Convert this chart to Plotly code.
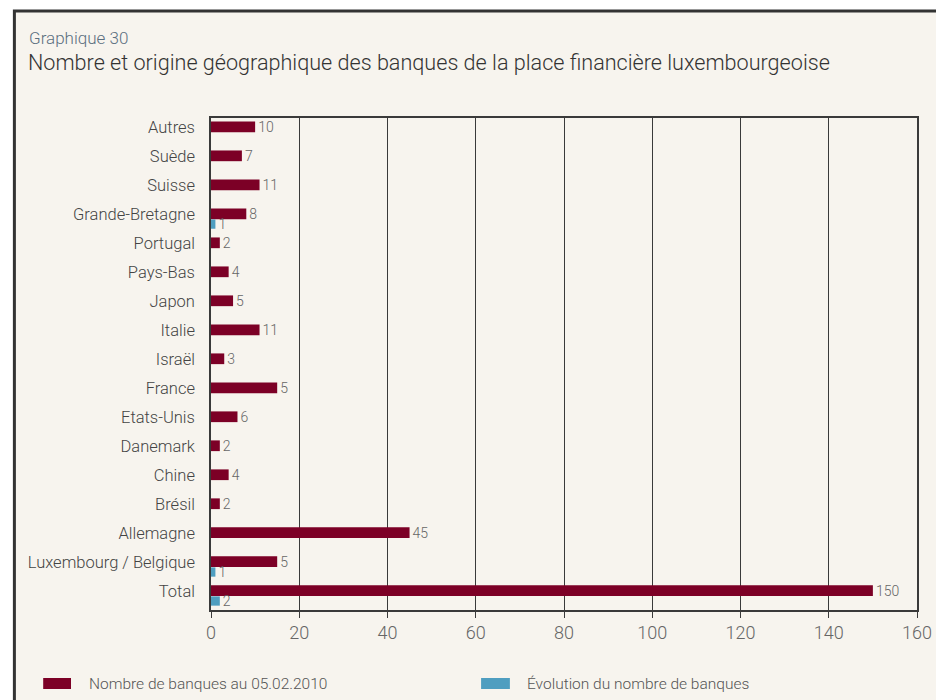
import plotly.graph_objects as go

# Data (bottom to top)
categories = ["Total", "Luxembourg / Belgique", "Allemagne", "Brésil", "Chine", "Danemark",
              "Etats-Unis", "France", "Israël", "Italie", "Japon", "Pays-Bas", "Portugal",
              "Grande-Bretagne", "Suisse", "Suède", "Autres"]
nombre = [150, 15, 45, 2, 4, 2, 6, 15, 3, 11, 5, 4, 2, 8, 11, 7, 10]
nombre_labels = ["150", "5", "45", "2", "4", "2", "6", "5", "3", "11", "5", "4", "2", "8", "11", "7", "10"]
evol_categories = ["Total", "Luxembourg / Belgique", "Grande-Bretagne"]
evolution = [2, 1, 1]
evol_labels = ["2", "1", "1"]
x_ticks = [0, 20, 40, 60, 80, 100, 120, 140, 160]

RED = "#7c0026"
BLUE = "#4f9ec0"
BG = "#f7f4ee"
FONT = "Roboto"

OFF = 8  # page body margin
W, H = 944 - OFF, 700 - OFF
L, R, T = 211 - OFF, 22, 118 - OFF
B = H - (610 - OFF)
pw = W - L - R
ph = H - T - B

def px_x(px):
    return (px - OFF - L) / pw

def px_y(py):
    return (H - B - (py - OFF)) / ph

fig = go.Figure()
fig.add_trace(go.Bar(
    y=categories, x=nombre, orientation="h", name="Nombre de banques au 05.02.2010",
    marker=dict(color=RED, line=dict(width=0)), width=0.37, offset=-0.18,
    text=nombre_labels, textposition="outside", cliponaxis=False, constraintext="none",
    textfont=dict(size=14, color="#666666", family=FONT, weight=300), showlegend=False,
))
fig.add_trace(go.Bar(
    y=evol_categories, x=evolution, orientation="h", name="Évolution du nombre de banques",
    marker=dict(color=BLUE, line=dict(width=0)), width=0.32, offset=-0.51,
    text=evol_labels, textposition="outside", cliponaxis=False, constraintext="none",
    textfont=dict(size=14, color="#666666", family=FONT, weight=300), showlegend=False,
))

shapes = [
    dict(type="rect", xref="paper", yref="paper", layer="below",
         x0=px_x(13), x1=px_x(970), y0=px_y(730), y1=px_y(11),
         fillcolor=BG, line=dict(color="#333333", width=3)),
    dict(type="rect", xref="paper", yref="paper",
         x0=px_x(42), x1=px_x(70), y0=px_y(689), y1=px_y(678),
         fillcolor=RED, line=dict(width=0)),
    dict(type="rect", xref="paper", yref="paper",
         x0=px_x(483), x1=px_x(512), y0=px_y(689), y1=px_y(678),
         fillcolor=BLUE, line=dict(width=0)),
]

annotations = [
    dict(text="Graphique 30", xref="paper", yref="paper", x=px_x(26), y=px_y(38),
         xanchor="left", yanchor="middle", showarrow=False,
         font=dict(size=17, color="#5b6f80", family=FONT, weight=300)),
    dict(text="Nombre et origine géographique des banques de la place financière luxembourgeoise",
         xref="paper", yref="paper", x=px_x(25), y=px_y(62),
         xanchor="left", yanchor="middle", showarrow=False,
         font=dict(size=21.6, color="#333333", family=FONT, weight=300)),
    dict(text="Nombre de banques au 05.02.2010", xref="paper", yref="paper",
         x=px_x(86), y=px_y(684), xanchor="left", yanchor="middle", showarrow=False,
         font=dict(size=15.5, color="#555555", family=FONT, weight=300)),
    dict(text="Évolution du nombre de banques", xref="paper", yref="paper",
         x=px_x(527), y=px_y(684), xanchor="left", yanchor="middle", showarrow=False,
         font=dict(size=15.5, color="#555555", family=FONT, weight=300)),
]

fig.update_layout(
    width=W, height=H,
    margin=dict(l=L, r=R, t=T, b=B, pad=0),
    paper_bgcolor="white", plot_bgcolor="rgba(0,0,0,0)",
    barmode="overlay",
    showlegend=False,
    shapes=shapes, annotations=annotations,
    font=dict(family=FONT),
)
fig.update_xaxes(
    range=[0, 160], tickvals=x_ticks, ticktext=[str(v) for v in x_ticks],
    showgrid=True, gridcolor="#3a3a3a", gridwidth=1,
    showline=True, linecolor="#3a3a3a", linewidth=1.5, mirror=True,
    ticks="outside", ticklen=6, tickcolor="#3a3a3a",
    tickfont=dict(size=18, color="#666666", family=FONT, weight=300),
    zeroline=False, fixedrange=True,
)
fig.update_yaxes(
    type="category", categoryorder="array", categoryarray=categories,
    range=[-0.66, len(categories) - 1 + 0.31],
    showgrid=False, showline=True, linecolor="#3a3a3a", linewidth=1.5, mirror=True,
    ticks="", ticklabelstandoff=11,
    tickfont=dict(size=16.5, color="#444444", family=FONT, weight=300),
    zeroline=False, fixedrange=True,
)

fig.write_html("out.html")
